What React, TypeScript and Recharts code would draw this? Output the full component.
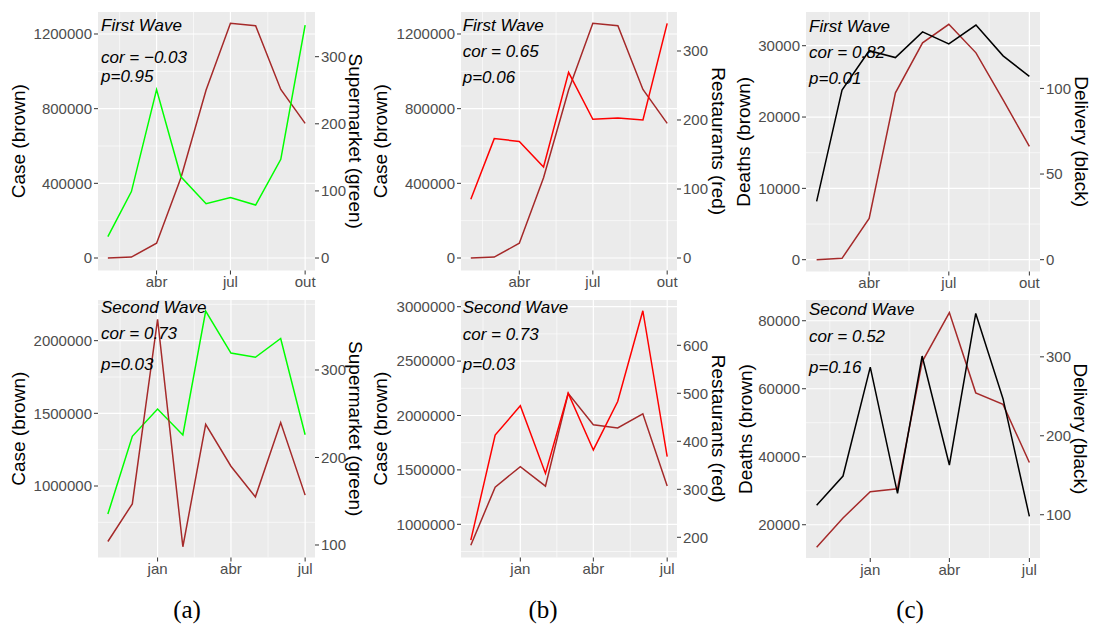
import React from 'react';
import { LineChart, Line, XAxis, YAxis, CartesianGrid } from 'recharts';

// ---- x positions (days since 2020-01-01, first of each month) ----
const firstWaveDays = [31, 60, 91, 121, 152, 182, 213, 244, 274];
const secondWaveDays = [305, 335, 366, 397, 425, 456, 486, 517, 547];
const firstWaveTicks = [91, 182, 274];
const firstWaveTickLabels = ['abr', 'jul', 'out'];
const secondWaveTicks = [366, 456, 547];
const secondWaveTickLabels = ['jan', 'abr', 'jul'];
const firstWaveMinor = [45.5, 136.5, 228];
const secondWaveMinor = [320, 411, 501.5];

// ---- series ----
const caseFirst = [0, 5000, 79000, 430000, 900000, 1257000, 1244000, 903000, 721000];
const supermarketFirst = [32, 99, 251, 121, 81, 90, 79, 147, 347];
const restaurantsFirst = [85, 173, 169, 132, 269, 201, 203, 200, 340];
const deathsFirst = [0, 190, 5800, 23400, 30400, 33000, 29000, 22400, 15900];
const deliveryFirst = [34, 99, 122, 118, 133, 126, 137, 119, 107];

const caseSecond = [807000, 1342000, 1530000, 1351000, 2204000, 1915000, 1886000, 2015000, 1353000];
const supermarketSecond = [104, 147, 358, 98, 238, 190, 155, 240, 157];
const restaurantsSecond = [194, 413, 474, 333, 500, 382, 483, 672, 368];
const deathsSecond = [13400, 22000, 29700, 30600, 67900, 82400, 58800, 55400, 38300];
const deliverySecond = [112, 149, 287, 127, 301, 163, 355, 247, 98];

// ---- axis ticks ----
const caseFirstTicks = [0, 400000, 800000, 1200000];
const caseFirstMinor = [200000, 600000, 1000000];
const pctFirstTicks = [0, 100, 200, 300];
const deathsFirstTicks = [0, 10000, 20000, 30000];
const deathsFirstMinor = [5000, 15000, 25000];
const deliveryFirstTicks = [0, 50, 100];
const caseSecondTicksA = [1000000, 1500000, 2000000];
const caseSecondMinorA = [750000, 1250000, 1750000, 2250000];
const supermarketSecondTicks = [100, 200, 300];
const caseSecondTicksB = [1000000, 1500000, 2000000, 2500000, 3000000];
const caseSecondMinorB = [750000, 1250000, 1750000, 2250000, 2750000];
const restaurantsSecondTicks = [200, 300, 400, 500, 600];
const deathsSecondTicks = [20000, 40000, 60000, 80000];
const deathsSecondMinor = [30000, 50000, 70000];
const deliverySecondTicks = [100, 200, 300];

const BROWN = '#A52A2A';
const GREEN = '#00FF00';
const RED = '#FF0000';
const BLACK = '#000000';

const FONT = '"Liberation Sans", Arial, sans-serif';

type Cfg = {
  plot: [number, number, number, number];
  days: number[];
  xDomain: [number, number];
  xTicks: number[];
  xLabels: string[];
  xMinor: number[];
  lDomain: [number, number];
  lTicks: number[];
  lMinor: number[];
  rDomain: [number, number];
  rTicks: number[];
  lData: number[];
  lColor: string;
  rData: number[];
  rColor: string;
  lTitle: string;
  rTitle: string;
  lTitleX: number;
  rTitleX: number;
  notes: string[];
  noteX: number;
  noteY: number[];
};

const FW_DOMAIN: [number, number] = [18.85, 286.15];
const SW_DOMAIN: [number, number] = [292.9, 559.1];

const panels: Cfg[] = [
  {
    plot: [98, 12, 315, 270.5], days: firstWaveDays, xDomain: FW_DOMAIN, xTicks: firstWaveTicks, xLabels: firstWaveTickLabels, xMinor: firstWaveMinor,
    lDomain: [-66960, 1317850], lTicks: caseFirstTicks, lMinor: caseFirstMinor, rDomain: [-18.6, 366.6], rTicks: pctFirstTicks,
    lData: caseFirst, lColor: BROWN, rData: supermarketFirst, rColor: GREEN,
    lTitle: 'Case (brown)', rTitle: 'Supermarket (green)', lTitleX: 18, rTitleX: 355,
    notes: ['First Wave', 'cor = \u22120.03', 'p=0.95'], noteX: 101, noteY: [31, 63.3, 81.7],
  },
  {
    plot: [461, 12, 677, 270.5], days: firstWaveDays, xDomain: FW_DOMAIN, xTicks: firstWaveTicks, xLabels: firstWaveTickLabels, xMinor: firstWaveMinor,
    lDomain: [-66960, 1317850], lTicks: caseFirstTicks, lMinor: caseFirstMinor, rDomain: [-18.1, 356.5], rTicks: pctFirstTicks,
    lData: caseFirst, lColor: BROWN, rData: restaurantsFirst, rColor: RED,
    lTitle: 'Case (brown)', rTitle: 'Restaurants (red)', lTitleX: 380, rTitleX: 718,
    notes: ['First Wave', 'cor = 0.65', 'p=0.06'], noteX: 462.7, noteY: [30.7, 57.3, 82.7],
  },
  {
    plot: [806, 12, 1040, 271.5], days: firstWaveDays, xDomain: FW_DOMAIN, xTicks: firstWaveTicks, xLabels: firstWaveTickLabels, xMinor: firstWaveMinor,
    lDomain: [-1654, 34726], lTicks: deathsFirstTicks, lMinor: deathsFirstMinor, rDomain: [-6.9, 144.6], rTicks: deliveryFirstTicks,
    lData: deathsFirst, lColor: BROWN, rData: deliveryFirst, rColor: BLACK,
    lTitle: 'Deaths (brown)', rTitle: 'Delivery (black)', lTitleX: 743.5, rTitleX: 1081.5,
    notes: ['First Wave', 'cor = 0.82', 'p=0.01'], noteX: 809, noteY: [31.7, 58.3, 84],
  },
  {
    plot: [98, 300, 315, 557.5], days: secondWaveDays, xDomain: SW_DOMAIN, xTicks: secondWaveTicks, xLabels: secondWaveTickLabels, xMinor: secondWaveMinor,
    lDomain: [508050, 2279800], lTicks: caseSecondTicksA, lMinor: caseSecondMinorA, rDomain: [85.7, 380], rTicks: supermarketSecondTicks,
    lData: caseSecond, lColor: GREEN, rData: supermarketSecond, rColor: BROWN,
    lTitle: 'Case (brown)', rTitle: 'Supermarket (green)', lTitleX: 18, rTitleX: 355,
    notes: ['Second Wave', 'cor = 0.73', 'p=0.03'], noteX: 101, noteY: [313.3, 339.3, 370],
  },
  {
    plot: [461, 300, 677, 557.5], days: secondWaveDays, xDomain: SW_DOMAIN, xTicks: secondWaveTicks, xLabels: secondWaveTickLabels, xMinor: secondWaveMinor,
    lDomain: [694850, 3061580], lTicks: caseSecondTicksB, lMinor: caseSecondMinorB, rDomain: [157.9, 694.4], rTicks: restaurantsSecondTicks,
    lData: caseSecond, lColor: BROWN, rData: restaurantsSecond, rColor: RED,
    lTitle: 'Case (brown)', rTitle: 'Restaurants (red)', lTitleX: 380, rTitleX: 718,
    notes: ['Second Wave', 'cor = 0.73', 'p=0.03'], noteX: 462.7, noteY: [312.7, 340, 370],
  },
  {
    plot: [806, 300, 1040, 558], days: secondWaveDays, xDomain: SW_DOMAIN, xTicks: secondWaveTicks, xLabels: secondWaveTickLabels, xMinor: secondWaveMinor,
    lDomain: [10217, 86100], lTicks: deathsSecondTicks, lMinor: deathsSecondMinor, rDomain: [45.2, 372], rTicks: deliverySecondTicks,
    lData: deathsSecond, lColor: BROWN, rData: deliverySecond, rColor: BLACK,
    lTitle: 'Deaths (brown)', rTitle: 'Delivery (black)', lTitleX: 745, rTitleX: 1080,
    notes: ['Second Wave', 'cor = 0.52', 'p=0.16'], noteX: 809, noteY: [315, 341.7, 373.3],
  },
];

const captions = ['(a)', '(b)', '(c)'];
const captionX = [187, 543, 910];

const LW = 70;
const RW = 45;
const TOP = 5;
const XH = 30;

const tickStyle = { fontFamily: FONT, fontSize: 15, fill: '#4D4D4D' };

function Panel({ cfg }: { cfg: Cfg }) {
  const [x0, y0, x1, y1] = cfg.plot;
  const width = LW + (x1 - x0) + RW;
  const height = TOP + (y1 - y0) + XH;
  const rows = cfg.days.map((d, i) => ({ x: d, l: cfg.lData[i], r: cfg.rData[i] }));
  return (
    <div style={{ position: 'absolute', left: x0 - LW, top: y0 - TOP }}>
      <LineChart width={width} height={height} data={rows} margin={{ top: TOP, right: 0, bottom: 0, left: 0 }}>
        <CartesianGrid
          yAxisId="L"
          fill="#EBEBEB"
          stroke="#FFFFFF"
          strokeWidth={0.6}
          horizontalValues={cfg.lMinor}
          verticalValues={cfg.xMinor}
        />
        <CartesianGrid
          yAxisId="L"
          stroke="#FFFFFF"
          strokeWidth={1.2}
          horizontalValues={cfg.lTicks}
          verticalValues={cfg.xTicks}
        />
        <XAxis
          dataKey="x"
          type="number"
          domain={cfg.xDomain}
          allowDataOverflow
          ticks={cfg.xTicks}
          interval={0}
          tickFormatter={(v: number) => cfg.xLabels[cfg.xTicks.indexOf(v)] ?? ''}
          axisLine={false}
          tickLine={{ stroke: '#333333' }}
          tickSize={4}
          tickMargin={2}
          height={XH}
          tick={tickStyle}
        />
        <YAxis
          yAxisId="L"
          orientation="left"
          type="number"
          domain={cfg.lDomain}
          allowDataOverflow
          ticks={cfg.lTicks}
          interval={0}
          width={LW}
          axisLine={false}
          tickLine={{ stroke: '#333333' }}
          tickSize={4}
          tickMargin={2}
          tick={tickStyle}
          tickFormatter={(v: number) => String(v)}
        />
        <YAxis
          yAxisId="R"
          orientation="right"
          type="number"
          domain={cfg.rDomain}
          allowDataOverflow
          ticks={cfg.rTicks}
          interval={0}
          width={RW}
          axisLine={false}
          tickLine={{ stroke: '#333333' }}
          tickSize={4}
          tickMargin={2}
          tick={tickStyle}
          tickFormatter={(v: number) => String(v)}
        />
        <Line yAxisId="L" type="linear" dataKey="l" stroke={cfg.lColor} strokeWidth={1.5} dot={false} isAnimationActive={false} />
        <Line yAxisId="R" type="linear" dataKey="r" stroke={cfg.rColor} strokeWidth={1.5} dot={false} isAnimationActive={false} />
      </LineChart>
    </div>
  );
}

export default function App() {
  return (
    <div style={{ position: 'absolute', left: 0, top: 0, width: 1094, height: 626, background: '#FFFFFF', overflow: 'hidden' }}>
      {panels.map((p, i) => (
        <Panel key={i} cfg={p} />
      ))}
      <svg width={1094} height={626} style={{ position: 'absolute', left: 0, top: 0, pointerEvents: 'none' }}>
        {panels.map((p, i) => {
          const cy = (p.plot[1] + p.plot[3]) / 2;
          return (
            <g key={i}>
              <text
                x={p.lTitleX}
                y={cy}
                transform={`rotate(-90 ${p.lTitleX} ${cy})`}
                textAnchor="middle"
                dominantBaseline="central"
                fontFamily={FONT}
                fontSize={19}
                fill="#000000"
              >
                {p.lTitle}
              </text>
              <text
                x={p.rTitleX}
                y={cy}
                transform={`rotate(90 ${p.rTitleX} ${cy})`}
                textAnchor="middle"
                dominantBaseline="central"
                fontFamily={FONT}
                fontSize={19}
                fill="#000000"
              >
                {p.rTitle}
              </text>
              {p.notes.map((n, j) => (
                <text key={j} x={p.noteX} y={p.noteY[j]} fontFamily={FONT} fontSize={17} fontStyle="italic" fill="#000000">
                  {n}
                </text>
              ))}
            </g>
          );
        })}
        {captions.map((c, i) => (
          <text key={i} x={captionX[i]} y={618} textAnchor="middle" fontFamily='"Liberation Serif", "DejaVu Serif", serif' fontSize={25} fill="#000000">
            {c}
          </text>
        ))}
      </svg>
    </div>
  );
}
